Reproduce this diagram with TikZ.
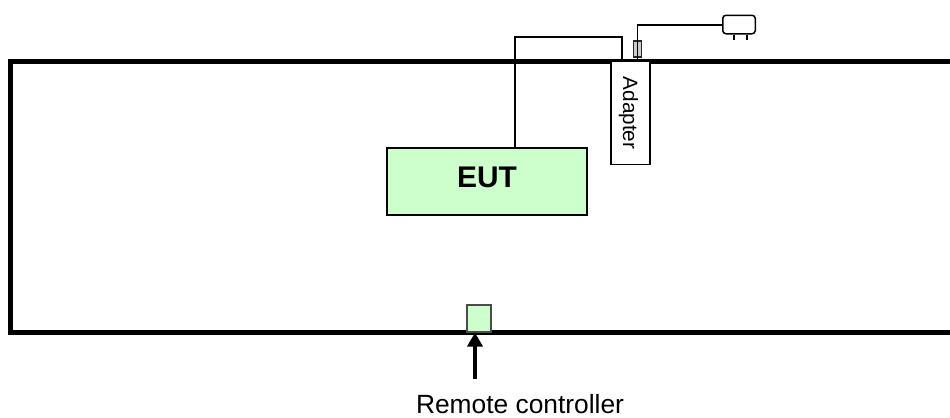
\documentclass[tikz,border=0pt]{standalone}
\usepackage{fontspec}
\setmainfont{Liberation Sans}
\usepackage{tikz}
\usetikzlibrary{calc,arrows.meta}

\begin{document}
\begin{tikzpicture}[
x=0.02cm,
y=-0.02cm,
box/.style={
  draw,
  line width=0.85pt,
  inner sep=0pt
  },
device/.style={
  box,
  fill=devicegreen
  },
wire/.style={
  line width=0.85pt
  },
room/.style={
  line width=2.3pt
  },
>={Triangle[length=8pt,width=8.5pt]}
]
\definecolor{devicegreen}{HTML}{CCFFCC}
\useasboundingbox (0,0) rectangle (950,417);

% room walls
\coordinate (ne) at (950,61.5);
\coordinate (nw) at (10.5,61.5);
\coordinate (sw) at (10.5,332.5);
\coordinate (se) at (950,332.5);
\draw[room] (ne) -- (nw) -- (sw) -- (se);

\node[device, minimum width=4cm, minimum height=1.34cm, text depth=0.16cm, font=\fontsize{17}{20}\selectfont\bfseries] (eut) at (487,181.5) {EUT};
\node[box, fill=white, rotate=-90, minimum width=2.06cm, minimum height=0.78cm, text height=10.9pt, font=\fontsize{11.8}{14}\selectfont] (adapter) at (630.5,113) {Adapter};
\node[device, draw=black!70, minimum width=0.48cm, minimum height=0.54cm] (remotebox) at (479,318.5) {};
\node[inner sep=0pt, font=\fontsize{15}{18}\selectfont] (remote) at (520,404) {Remote controller};

% cable to adapter
\coordinate (cable1) at (515,37);
\coordinate (cable2) at (622,37);
\draw[wire] (cable1 |- eut.north) -- (cable1) -- (cable2) -- (cable2 |- adapter.west);

% mains plug
\node[box, rounded corners=1.8pt, minimum width=0.65cm, minimum height=0.37cm] (plug) at (739,24.5) {};
\node[box, draw=black!85, fill=black!20, minimum width=0.16cm, minimum height=0.32cm] (fuse) at (637.5,49) {};
\coordinate (cable3) at (637.5,25);
\draw[wire] (cable3 |- adapter.west) -- (cable3) -- (plug.west |- cable3);
\coordinate (pin1) at (734,40);
\coordinate (pin2) at (747,40);
\draw[wire] (pin1 |- plug.south) -- (pin1);
\draw[wire] (pin2 |- plug.south) -- (pin2);

% arrow from remote controller
\coordinate (tail) at (475,379);
\draw[->, line width=2.2pt] (tail) -- (tail |- sw);
\end{tikzpicture}
\end{document}
